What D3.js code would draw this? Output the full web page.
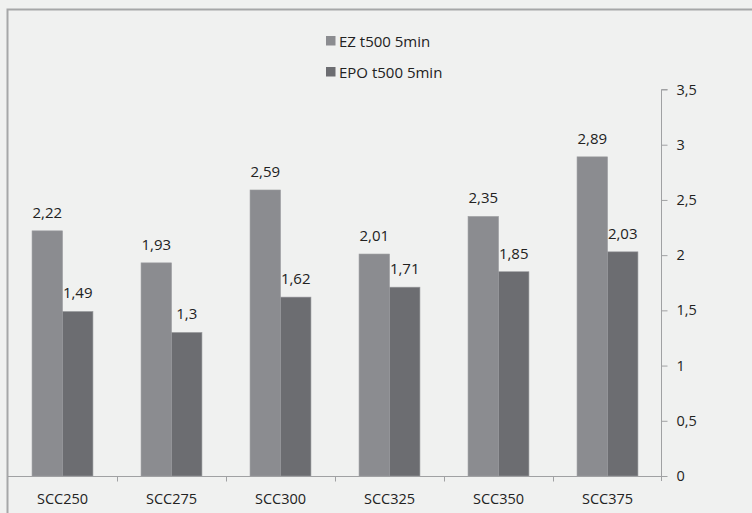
<!DOCTYPE html>
<html><head><meta charset="utf-8">
<script src="https://cdn.jsdelivr.net/npm/d3@7"></script>
<style>html,body{margin:0;padding:0;background:#f0f1f0;}svg{display:block;}</style>
</head><body>
<script>
const categories = ["SCC250","SCC275","SCC300","SCC325","SCC350","SCC375"];
const seriesNames = ["EZ t500 5min","EPO t500 5min"];
const ezValues = [2.22,1.93,2.59,2.01,2.35,2.89];
const epoValues = [1.49,1.3,1.62,1.71,1.85,2.03];
const yTicks = [0,0.5,1,1.5,2,2.5,3,3.5];
const colors = ["#8b8c90","#6c6d71"];

const W = 752, H = 513;
const svg = d3.select("body").append("svg").attr("width", W).attr("height", H);
const font = "'Open Sans', 'DejaVu Sans', sans-serif";

svg.append("rect").attr("x",0).attr("y",0).attr("width",W).attr("height",H).attr("fill","#f0f1f0");
// frame border
svg.append("path").attr("d","M7.5,520 V9.5 H760").attr("fill","none").attr("stroke","#a6a7a8").attr("stroke-width",2);

const x0 = d3.scaleBand().domain(categories).range([8,662]).paddingInner(0).paddingOuter(0);
const x1 = d3.scaleBand().domain(seriesNames).range([0,x0.bandwidth()]).paddingInner(0).paddingOuter(0.79);
const y = d3.scaleLinear().domain([0,3.5]).range([476,89.5]);

const data = categories.map((c,i)=>({cat:c, vals:[ezValues[i], epoValues[i]]}));

const g = svg.append("g");
data.forEach(d=>{
  d.vals.forEach((v,j)=>{
    const bx = x0(d.cat)+x1(seriesNames[j]);
    g.append("rect")
      .attr("x",bx).attr("y",y(v))
      .attr("width",x1.bandwidth()).attr("height",y(0)-y(v))
      .attr("fill",colors[j]).attr("stroke","#9a9b9e").attr("stroke-width",0.6);
    g.append("text")
      .attr("x",bx+x1.bandwidth()/2).attr("y",y(v)-13)
      .attr("text-anchor","middle").attr("font-family",font).attr("font-size",15)
      .attr("fill","#222").text(String(v).replace(".",","));
  });
});

// x axis
const xAxis = svg.append("g").attr("transform","translate(0,476.5)");
xAxis.append("line").attr("x1",8).attr("x2",667).attr("y1",0).attr("y2",0).attr("stroke","#a0a1a3");
categories.forEach((c,i)=>{
  if(i>0) xAxis.append("line").attr("x1",x0(c)+0.5).attr("x2",x0(c)+0.5).attr("y1",0).attr("y2",5).attr("stroke","#a0a1a3");
  xAxis.append("text").attr("x",x0(c)+x0.bandwidth()/2).attr("y",27)
    .attr("text-anchor","middle").attr("font-family",font).attr("font-size",14.5).attr("fill","#222").text(c);
});

// y axis on right
const yAxis = svg.append("g").attr("transform","translate(661.5,0)");
yAxis.call(d3.axisRight(y).tickValues(yTicks).tickSize(6).tickPadding(9)
  .tickFormat(d=>String(d).replace(".",",")));
yAxis.select(".domain").attr("stroke","#a0a1a3").attr("d","M6,89.5H0V481");
yAxis.selectAll(".tick line").attr("stroke","#a0a1a3");
yAxis.selectAll(".tick text").attr("font-family",font).attr("font-size",14.5).attr("fill","#222");

// legend
const legend = svg.append("g");
seriesNames.forEach((s,i)=>{
  const ly = 41 + i*31;
  legend.append("rect").attr("x",326).attr("y",ly-5).attr("width",9.5).attr("height",9.5).attr("fill",colors[i]);
  legend.append("text").attr("x",339).attr("y",ly+5.5).attr("font-family",font).attr("font-size",15)
    .attr("fill","#222").text(s);
});
</script>
</body></html>
